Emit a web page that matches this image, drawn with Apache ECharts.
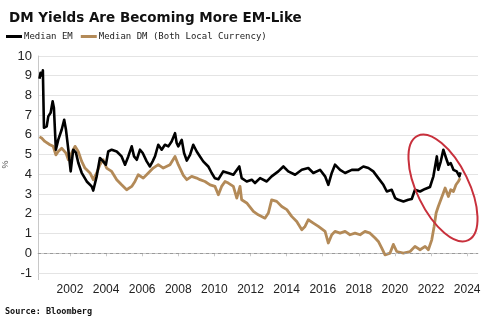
<!DOCTYPE html>
<html>
<head>
<meta charset="utf-8">
<script src="https://cdn.jsdelivr.net/npm/echarts@6/dist/echarts.min.js"></script>
<style>
  html, body { margin: 0; padding: 0; background: #fff; }
  #chart { width: 485px; height: 333px; }
</style>
</head>
<body>
<div id="chart"></div>
<script>
// Median 10y local-currency yields, EM vs DM (decimal year, %)
const emDates = [2000.31,2000.37,2000.45,2000.50,2000.56,2000.71,2000.80,2000.93,2001.04,2001.11,2001.22,2001.35,2001.54,2001.68,2001.78,2001.91,2002.04,2002.18,2002.33,2002.46,2002.65,2002.93,2003.20,2003.29,2003.48,2003.66,2003.84,2003.99,2004.12,2004.31,2004.59,2004.86,2005.05,2005.23,2005.42,2005.55,2005.70,2005.88,2006.03,2006.25,2006.43,2006.58,2006.71,2006.89,2007.08,2007.26,2007.45,2007.63,2007.82,2007.91,2008.00,2008.19,2008.32,2008.47,2008.65,2008.83,2009.02,2009.20,2009.38,2009.66,2009.85,2010.03,2010.22,2010.49,2010.77,2011.05,2011.38,2011.51,2011.79,2012.07,2012.25,2012.53,2012.90,2013.17,2013.54,2013.82,2014.09,2014.47,2014.84,2015.20,2015.48,2015.85,2016.13,2016.31,2016.50,2016.68,2016.96,2017.24,2017.61,2017.97,2018.25,2018.53,2018.80,2019.08,2019.36,2019.55,2019.82,2020.01,2020.19,2020.47,2020.74,2020.93,2021.11,2021.39,2021.67,2021.94,2022.13,2022.32,2022.40,2022.54,2022.68,2022.83,2022.96,2023.09,2023.24,2023.42,2023.57,2023.63];
const emValues = [8.85,9.15,9.0,9.27,6.36,6.43,6.94,7.12,7.7,7.38,5.25,5.75,6.26,6.77,6.26,5.25,4.15,5.25,5.1,4.59,4.08,3.64,3.39,3.18,3.9,4.83,4.66,4.49,5.16,5.25,5.16,4.91,4.49,4.91,5.42,4.91,4.74,5.25,5.08,4.66,4.4,4.66,4.91,5.5,5.25,5.5,5.42,5.67,6.09,5.59,5.42,5.75,5.08,4.7,4.99,5.5,5.16,4.91,4.66,4.4,4.07,3.8,3.75,4.15,4.07,3.98,4.4,3.81,3.64,3.73,3.56,3.81,3.64,3.9,4.15,4.4,4.15,3.98,4.23,4.32,4.07,4.23,3.9,3.47,4.07,4.49,4.23,4.07,4.23,4.23,4.4,4.32,4.15,3.81,3.47,3.13,3.22,2.8,2.71,2.63,2.71,2.75,3.22,3.13,3.26,3.36,3.9,4.91,4.23,4.66,5.25,4.83,4.49,4.57,4.23,4.15,3.9,4.1];

const dmDates = [2000.31,2000.43,2000.61,2000.89,2001.07,2001.22,2001.35,2001.54,2001.78,2001.91,2002.09,2002.28,2002.46,2002.65,2002.83,2003.11,2003.29,2003.48,2003.66,2003.84,2004.03,2004.31,2004.59,2004.86,2005.14,2005.42,2005.60,2005.78,2006.06,2006.34,2006.61,2006.89,2007.17,2007.54,2007.82,2008.00,2008.28,2008.47,2008.74,2009.02,2009.20,2009.48,2009.76,2010.03,2010.22,2010.40,2010.59,2010.77,2011.05,2011.24,2011.42,2011.51,2011.79,2012.16,2012.43,2012.80,2012.99,2013.17,2013.45,2013.73,2014.01,2014.28,2014.56,2014.84,2015.02,2015.20,2015.48,2015.76,2016.13,2016.31,2016.50,2016.68,2016.96,2017.24,2017.51,2017.79,2018.07,2018.34,2018.62,2018.90,2019.08,2019.27,2019.45,2019.73,2019.91,2020.10,2020.47,2020.84,2021.11,2021.39,2021.67,2021.85,2022.04,2022.17,2022.28,2022.40,2022.54,2022.68,2022.78,2022.96,2023.09,2023.24,2023.38,2023.51,2023.61];
const dmValues = [5.9,5.84,5.67,5.5,5.42,4.99,5.16,5.33,5.08,4.74,5.08,5.42,5.16,4.66,4.32,4.07,3.73,4.07,4.49,4.74,4.32,4.15,3.73,3.47,3.22,3.39,3.64,3.98,3.81,4.07,4.32,4.49,4.32,4.49,4.91,4.49,3.95,3.73,3.9,3.81,3.73,3.64,3.47,3.39,2.97,3.39,3.64,3.56,3.39,2.8,3.39,2.71,2.55,2.12,1.95,1.78,2.04,2.71,2.63,2.37,2.21,1.87,1.61,1.19,1.36,1.7,1.53,1.36,1.11,0.52,0.94,1.11,1.02,1.11,0.94,1.02,0.94,1.11,1.02,0.77,0.6,0.26,-0.08,0.01,0.45,0.09,0.01,0.09,0.35,0.18,0.35,0.18,0.68,1.36,2.04,2.37,2.71,3.05,3.31,2.88,3.22,3.13,3.47,3.64,3.81];

const yearTicks = [2002,2004,2006,2008,2010,2012,2014,2016,2018,2020,2022,2024];
const seriesNames = ['Median EM', 'Median DM (Both Local Currency)'];

const zip = (xs, ys) => xs.map((x, i) => [x, ys[i]]);

const chart = echarts.init(document.getElementById('chart'), null, { renderer: 'canvas' });

chart.setOption({
  animation: false,
  backgroundColor: '#fff',
  title: {
    text: 'DM Yields Are Becoming More EM-Like',
    left: 4, top: 6,
    textStyle: { fontFamily: 'DejaVu Sans', fontWeight: 'bold', fontSize: 13.5, color: '#111' }
  },
  legend: {
    left: 1, top: 27,
    icon: 'rect', itemWidth: 16, itemHeight: 3, itemGap: 8,
    textStyle: { fontFamily: 'DejaVu Sans Mono', fontSize: 9, color: '#222', padding: [0, 0, 0, -3] },
    data: seriesNames
  },
  grid: { left: 38, right: 7, top: 56, bottom: 60, outerBoundsMode: 'none' },
  xAxis: {
    type: 'value',
    min: 2000.23, max: 2024.6,
    offset: 7,
    axisLine: { show: true, lineStyle: { color: '#c8c8c8', width: 1 } },
    axisTick: { show: true, customValues: yearTicks, length: 3, lineStyle: { color: '#c8c8c8' } },
    axisLabel: {
      customValues: yearTicks, margin: 4,
      fontFamily: 'Liberation Sans', fontSize: 12, color: '#222',
      formatter: v => String(Math.round(v))
    },
    splitLine: { show: false }
  },
  yAxis: {
    type: 'value',
    min: -1, max: 10, interval: 1,
    name: '%', nameLocation: 'middle', nameGap: 28, nameMoveOverlap: false,
    nameTextStyle: { fontSize: 9, color: '#555', fontFamily: 'Liberation Sans' },
    axisLine: { show: true, lineStyle: { color: '#c8c8c8', width: 1 } },
    axisTick: { show: false },
    axisLabel: { margin: 6, fontFamily: 'Liberation Sans', fontSize: 13, color: '#222' },
    splitLine: { show: true, lineStyle: { color: '#e4e4e4', width: 1 } }
  },
  series: [
    {
      name: seriesNames[0], type: 'line', data: zip(emDates, emValues),
      showSymbol: false, z: 3,
      itemStyle: { color: '#000' },
      lineStyle: { color: '#000', width: 2.6, join: 'round' }
    },
    {
      name: seriesNames[1], type: 'line', data: zip(dmDates, dmValues),
      showSymbol: false, z: 2,
      itemStyle: { color: '#b38a58' },
      lineStyle: { color: '#b38a58', width: 2.8, join: 'round' },
      markLine: {
        silent: true, symbol: 'none', label: { show: false },
        lineStyle: { type: [3, 3], color: '#9a9a9a', width: 1 },
        data: [{ yAxis: 0 }]
      }
    }
  ],
  graphic: [
    // continue the y axis line down to the offset x axis
    { type: 'line', shape: { x1: 38.5, y1: 273, x2: 38.5, y2: 280 }, style: { stroke: '#c8c8c8', lineWidth: 1 } },
    // highlight around the recent divergence
    {
      type: 'ellipse', x: 443, y: 188, rotation: 26 * Math.PI / 180,
      shape: { cx: 0, cy: 0, rx: 26, ry: 58 },
      style: { fill: 'none', stroke: '#c8303c', lineWidth: 2 }, z: 10
    },
    {
      type: 'text', left: 5, top: 307,
      style: { text: 'Source: Bloomberg', fontFamily: 'DejaVu Sans Mono', fontWeight: 'bold', fontSize: 8.5, fill: '#111' }
    }
  ]
});
</script>
</body>
</html>
